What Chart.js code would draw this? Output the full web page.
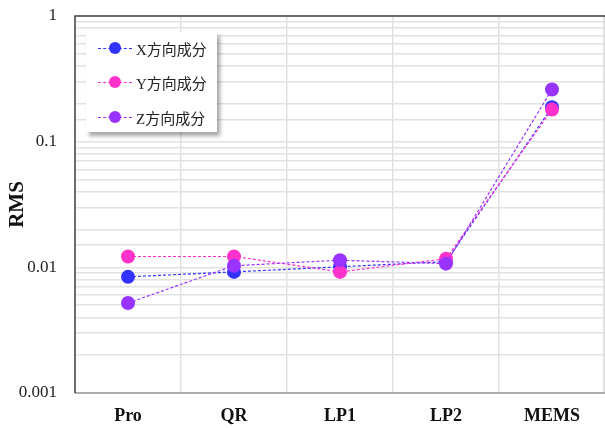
<!DOCTYPE html>
<html>
<head>
<meta charset="utf-8">
<script src="https://cdn.jsdelivr.net/npm/chart.js@4/dist/chart.umd.min.js"></script>
<style>
  html, body { margin: 0; padding: 0; background: #fff; }
  .wrap { position: relative; width: 605px; height: 428px; }
  #legend {
    position: absolute; left: 86px; top: 32px; width: 131px; height: 100px;
    background: #fff; box-shadow: 3px 4px 4px rgba(0,0,0,0.35);
    font-family: "Liberation Serif", "Noto Sans CJK SC", serif; font-size: 15px; color: #222;
  }
  .item { position: absolute; left: 12px; height: 20px; display: flex; align-items: center; }
  .sample { position: relative; width: 34px; height: 20px; margin-right: 4px; }
  .sample .ln { position: absolute; left: 0; right: 0; top: 10px; border-top: 1px dashed; }
  .sample .dot { position: absolute; left: 11px; top: 4px; width: 12px; height: 12px; border-radius: 50%; }
</style>
</head>
<body>
<div class="wrap">
  <canvas id="chart" width="605" height="428"></canvas>
  <div id="legend"></div>
</div>
<script>
document.addEventListener("DOMContentLoaded", () => {
    const categories = ["Pro", "QR", "LP1", "LP2", "MEMS"];
    const seriesNames = ["X方向成分", "Y方向成分", "Z方向成分"];
    const xValues = [0.0084, 0.0092, 0.0101, 0.0111, 0.188];
    const yValues = [0.0122, 0.0122, 0.0092, 0.0117, 0.180];
    const zValues = [0.0052, 0.0103, 0.0114, 0.0107, 0.260];
    const colors = ["#3333ff", "#ff33cc", "#9933ff"];
    const decadeLabels = [1, 0.1, 0.01, 0.001];

    const allValues = [xValues, yValues, zValues];

    // Z drawn on top, X at the bottom (as in the reference)
    const datasets = allValues.map((vals, i) => ({
        label: seriesNames[i],
        data: vals,
        order: allValues.length - i,
        borderColor: colors[i],
        backgroundColor: colors[i],
        pointBackgroundColor: colors[i],
        pointBorderWidth: 0,
        pointRadius: 7,
        borderWidth: 1.2,
        borderDash: [3, 2],
        tension: 0,
        clip: false,
    }));

    // Plot frame: dark top/left, grey bottom, light right edge
    const framePlugin = {
        id: "frame",
        beforeDatasetsDraw(chart) {
            const { ctx, chartArea } = chart;
            const { left, right, top, bottom } = chartArea;
            ctx.save();
            ctx.lineWidth = 1.5;
            ctx.strokeStyle = "#dcdcdc";
            ctx.beginPath();
            ctx.moveTo(right - 1, top);
            ctx.lineTo(right - 1, bottom);
            ctx.stroke();
            ctx.strokeStyle = "#999";
            ctx.beginPath();
            ctx.moveTo(left, bottom);
            ctx.lineTo(right, bottom);
            ctx.stroke();
            ctx.strokeStyle = "#444";
            ctx.beginPath();
            ctx.moveTo(right, top);
            ctx.lineTo(left, top);
            ctx.lineTo(left, bottom);
            ctx.stroke();
            ctx.restore();
        }
    };

    new Chart(document.getElementById("chart"), {
        type: "line",
        data: { labels: categories, datasets: datasets },
        plugins: [framePlugin],
        options: {
            responsive: false,
            animation: false,
            layout: { autoPadding: false, padding: { top: 16, right: 0, left: 0, bottom: 0 } },
            plugins: { legend: { display: false }, tooltip: { enabled: false } },
            scales: {
                x: {
                    offset: true,
                    grid: { offset: true, color: "#e2e2e2", lineWidth: 1.5, drawTicks: false },
                    border: { display: false },
                    ticks: {
                        color: "#111",
                        padding: 13,
                        font: { family: "Liberation Serif", size: 18, weight: "bold" },
                    },
                    afterFit(scale) {
                        scale.height = 35;
                        scale.paddingLeft = 0;
                        scale.paddingRight = 0;
                    },
                },
                y: {
                    type: "logarithmic",
                    min: 0.001,
                    max: 1,
                    grid: { color: "#e2e2e2", lineWidth: 1.5, drawTicks: false },
                    border: { display: false },
                    title: {
                        display: true,
                        text: "RMS",
                        color: "#111",
                        padding: { top: 5, bottom: 0 },
                        font: { family: "Liberation Serif", size: 21, weight: "bold" },
                    },
                    ticks: {
                        autoSkip: false,
                        color: "#222",
                        padding: 18,
                        font: { family: "Liberation Serif", size: 17 },
                        callback(value) {
                            return decadeLabels.some(d => Math.abs(d - value) < d * 1e-6) ? String(value) : "";
                        },
                    },
                    afterFit(scale) {
                        scale.width = 75;
                        scale.paddingTop = 0;
                        scale.paddingBottom = 0;
                    },
                },
            },
        },
    });

    // HTML legend built from the series arrays
    const legend = document.getElementById("legend");
    const tops = [6, 40, 75];
    seriesNames.forEach((name, i) => {
        const item = document.createElement("div");
        item.className = "item";
        item.style.top = tops[i] + "px";
        item.innerHTML = `<span class="sample"><span class="ln" style="border-color:${colors[i]}"></span>` +
            `<span class="dot" style="background:${colors[i]}"></span></span><span>${name}</span>`;
        legend.appendChild(item);
    });
});
</script>
</body>
</html>
